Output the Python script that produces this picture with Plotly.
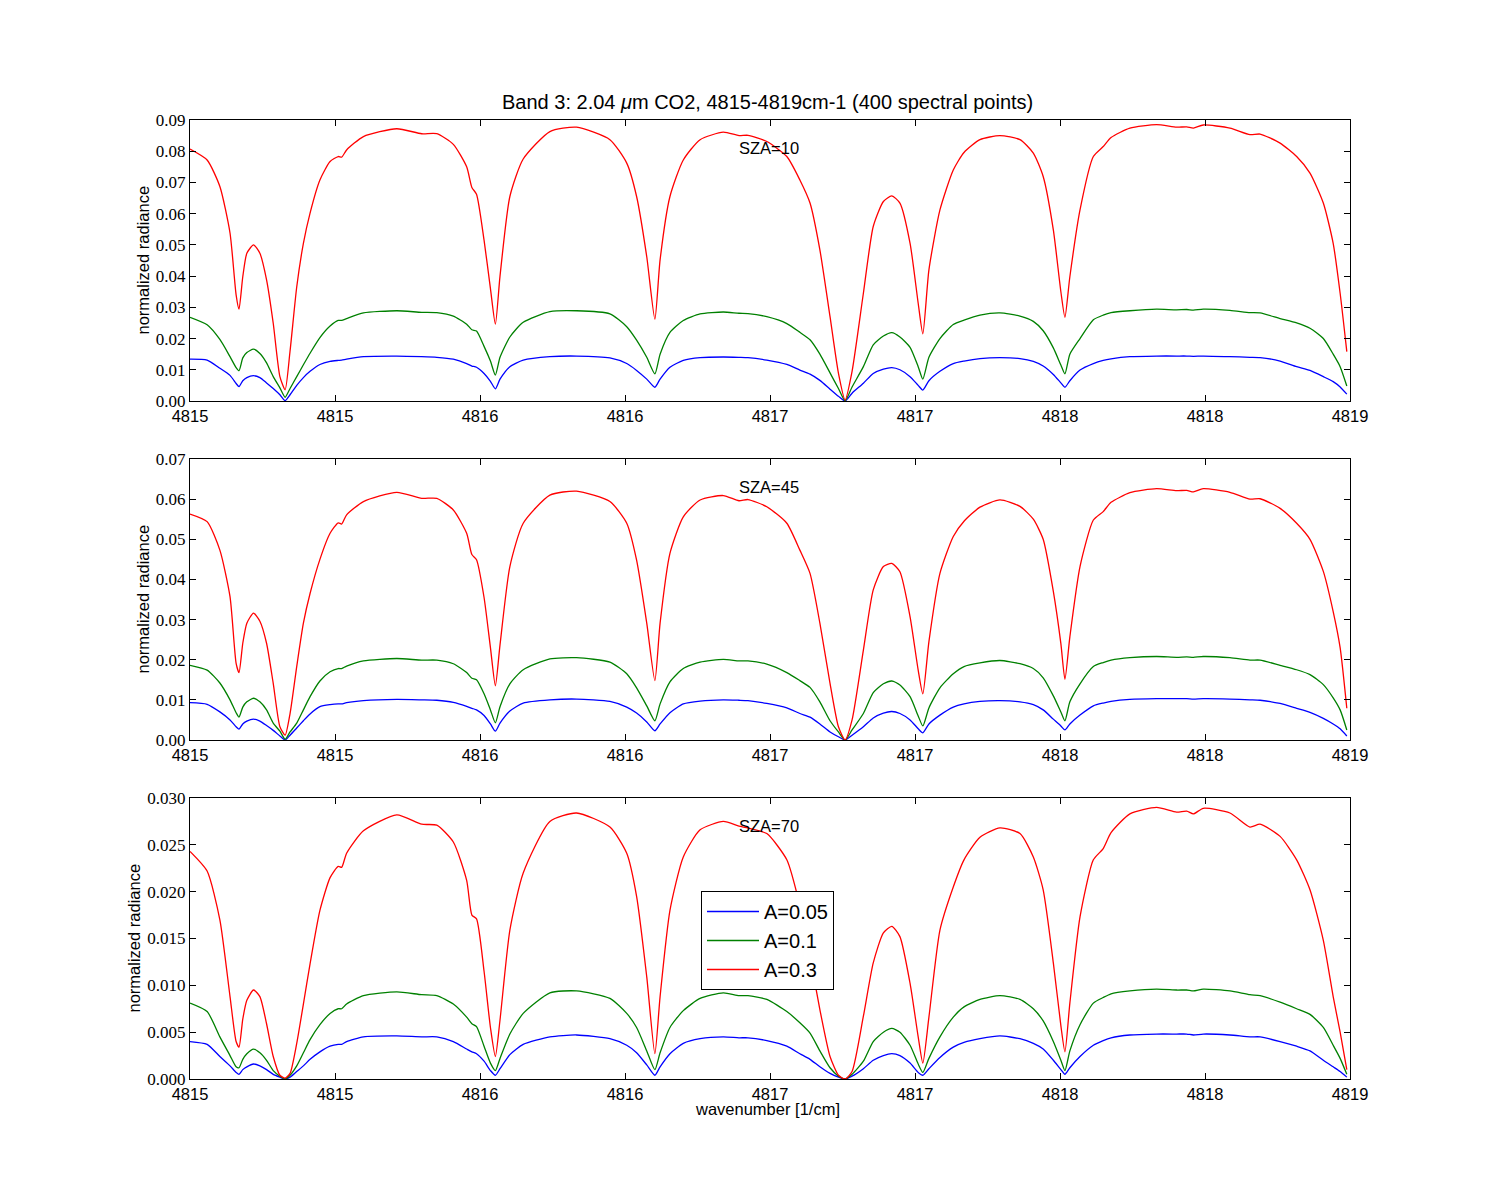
import plotly.graph_objects as go

# ---------------- data ----------------
wavenumber = [
    4815.000, 4815.059, 4815.103, 4815.138, 4815.159, 4815.169, 4815.182, 4815.196, 4815.219, 4815.241,
    4815.264, 4815.287, 4815.310, 4815.328, 4815.345, 4815.368, 4815.391, 4815.414, 4815.448, 4815.483,
    4815.511, 4815.523, 4815.540, 4815.598, 4815.713, 4815.799, 4815.851, 4815.908, 4815.954, 4815.972,
    4815.988, 4816.014, 4816.036, 4816.053, 4816.069, 4816.103, 4816.149, 4816.241, 4816.333, 4816.448,
    4816.506, 4816.540, 4816.575, 4816.603, 4816.621, 4816.655, 4816.701, 4816.759, 4816.839, 4816.893,
    4816.924, 4816.989, 4817.058, 4817.103, 4817.138, 4817.172, 4817.207, 4817.236, 4817.259, 4817.283,
    4817.322, 4817.356, 4817.391, 4817.420, 4817.448, 4817.483, 4817.511, 4817.527, 4817.548, 4817.586,
    4817.632, 4817.669, 4817.724, 4817.793, 4817.862, 4817.908, 4817.942, 4817.977, 4818.003, 4818.017,
    4818.034, 4818.069, 4818.115, 4818.149, 4818.176, 4818.241, 4818.333, 4818.402, 4818.437, 4818.460,
    4818.494, 4818.586, 4818.655, 4818.690, 4818.759, 4818.816, 4818.862, 4818.908, 4818.942, 4818.966,
    4818.989,
]

# SZA = 10
sza10_a005 = [
    0.0134, 0.0131, 0.0105, 0.0082, 0.0056, 0.0046, 0.0065, 0.0075, 0.0081, 0.0075,
    0.0058, 0.0040, 0.0020, 0.0001, 0.0020, 0.0050, 0.0075, 0.0095, 0.0117, 0.0127,
    0.0130, 0.0131, 0.0134, 0.0142, 0.0144, 0.0142, 0.0140, 0.0134, 0.0120, 0.0112,
    0.0108, 0.0088, 0.0063, 0.0039, 0.0070, 0.0110, 0.0131, 0.0142, 0.0144, 0.0138,
    0.0120, 0.0098, 0.0070, 0.0044, 0.0070, 0.0108, 0.0130, 0.0139, 0.0141, 0.0140,
    0.0139, 0.0131, 0.0117, 0.0099, 0.0086, 0.0066, 0.0038, 0.0015, 0.0000, 0.0025,
    0.0057, 0.0088, 0.0102, 0.0107, 0.0100, 0.0078, 0.0050, 0.0035, 0.0065, 0.0095,
    0.0120, 0.0128, 0.0136, 0.0139, 0.0136, 0.0127, 0.0112, 0.0085, 0.0058, 0.0044,
    0.0065, 0.0099, 0.0120, 0.0130, 0.0135, 0.0142, 0.0144, 0.0144, 0.0144, 0.0143,
    0.0144, 0.0142, 0.0140, 0.0139, 0.0128, 0.0110, 0.0098, 0.0078, 0.0062, 0.0045,
    0.0022,
]
sza10_a01 = [
    0.0268, 0.0244, 0.0197, 0.0142, 0.0107, 0.0097, 0.0138, 0.0155, 0.0166, 0.0152,
    0.0122, 0.0078, 0.0042, 0.0012, 0.0040, 0.0078, 0.0116, 0.0153, 0.0203, 0.0240,
    0.0258, 0.0258, 0.0264, 0.0282, 0.0289, 0.0284, 0.0283, 0.0272, 0.0246, 0.0228,
    0.0224, 0.0175, 0.0128, 0.0083, 0.0140, 0.0205, 0.0252, 0.0286, 0.0289, 0.0279,
    0.0238, 0.0195, 0.0140, 0.0087, 0.0150, 0.0220, 0.0258, 0.0279, 0.0285, 0.0281,
    0.0280, 0.0270, 0.0248, 0.0220, 0.0196, 0.0150, 0.0090, 0.0040, 0.0001, 0.0045,
    0.0110, 0.0180, 0.0208, 0.0219, 0.0205, 0.0172, 0.0110, 0.0070, 0.0140, 0.0200,
    0.0245, 0.0259, 0.0275, 0.0282, 0.0272, 0.0255, 0.0225, 0.0170, 0.0115, 0.0087,
    0.0150, 0.0200, 0.0260, 0.0275, 0.0283, 0.0289, 0.0294, 0.0292, 0.0293, 0.0291,
    0.0294, 0.0290, 0.0283, 0.0282, 0.0264, 0.0250, 0.0233, 0.0200, 0.0150, 0.0110,
    0.0048,
]
sza10_a03 = [
    0.0807, 0.0772, 0.0687, 0.0538, 0.0340, 0.0294, 0.0398, 0.0473, 0.0500, 0.0473,
    0.0388, 0.0249, 0.0078, 0.0036, 0.0160, 0.0365, 0.0505, 0.0602, 0.0708, 0.0767,
    0.0783, 0.0781, 0.0804, 0.0847, 0.0872, 0.0856, 0.0856, 0.0822, 0.0750, 0.0684,
    0.0662, 0.0515, 0.0360, 0.0246, 0.0400, 0.0655, 0.0775, 0.0863, 0.0877, 0.0837,
    0.0762, 0.0655, 0.0462, 0.0262, 0.0452, 0.0655, 0.0772, 0.0837, 0.0861, 0.0850,
    0.0851, 0.0831, 0.0783, 0.0708, 0.0634, 0.0484, 0.0270, 0.0089, 0.0003, 0.0095,
    0.0345, 0.0559, 0.0639, 0.0657, 0.0634, 0.0505, 0.0313, 0.0215, 0.0420, 0.0612,
    0.0740, 0.0796, 0.0837, 0.0850, 0.0837, 0.0794, 0.0719, 0.0548, 0.0350, 0.0268,
    0.0398, 0.0612, 0.0783, 0.0815, 0.0844, 0.0874, 0.0885, 0.0877, 0.0878, 0.0874,
    0.0884, 0.0874, 0.0853, 0.0855, 0.0826, 0.0783, 0.0730, 0.0634, 0.0505, 0.0345,
    0.0158,
]

# SZA = 45
sza45_a005 = [
    0.0093, 0.0089, 0.0070, 0.0050, 0.0033, 0.0027, 0.0040, 0.0047, 0.0052, 0.0047,
    0.0036, 0.0024, 0.0010, 0.0000, 0.0012, 0.0030, 0.0048, 0.0065, 0.0083, 0.0088,
    0.0090, 0.0090, 0.0093, 0.0098, 0.0101, 0.0100, 0.0099, 0.0094, 0.0084, 0.0079,
    0.0075, 0.0061, 0.0040, 0.0022, 0.0042, 0.0072, 0.0092, 0.0100, 0.0102, 0.0096,
    0.0082, 0.0067, 0.0045, 0.0023, 0.0040, 0.0068, 0.0090, 0.0097, 0.0100, 0.0099,
    0.0098, 0.0091, 0.0080, 0.0066, 0.0057, 0.0040, 0.0020, 0.0008, 0.0000, 0.0012,
    0.0033, 0.0055, 0.0067, 0.0071, 0.0066, 0.0050, 0.0028, 0.0018, 0.0040, 0.0062,
    0.0082, 0.0090, 0.0096, 0.0098, 0.0095, 0.0088, 0.0075, 0.0052, 0.0035, 0.0025,
    0.0040, 0.0062, 0.0085, 0.0092, 0.0096, 0.0101, 0.0103, 0.0103, 0.0103, 0.0102,
    0.0103, 0.0102, 0.0100, 0.0099, 0.0091, 0.0079, 0.0069, 0.0054, 0.0040, 0.0028,
    0.0010,
]
sza45_a01 = [
    0.0186, 0.0174, 0.0142, 0.0100, 0.0068, 0.0057, 0.0082, 0.0095, 0.0104, 0.0095,
    0.0075, 0.0042, 0.0022, 0.0002, 0.0020, 0.0042, 0.0075, 0.0108, 0.0147, 0.0170,
    0.0178, 0.0178, 0.0184, 0.0197, 0.0203, 0.0199, 0.0199, 0.0190, 0.0168, 0.0154,
    0.0150, 0.0115, 0.0075, 0.0043, 0.0083, 0.0140, 0.0175, 0.0202, 0.0205, 0.0194,
    0.0165, 0.0130, 0.0085, 0.0048, 0.0090, 0.0145, 0.0178, 0.0194, 0.0201, 0.0197,
    0.0197, 0.0189, 0.0168, 0.0148, 0.0131, 0.0095, 0.0048, 0.0020, 0.0000, 0.0025,
    0.0066, 0.0118, 0.0140, 0.0147, 0.0137, 0.0108, 0.0060, 0.0035, 0.0080, 0.0130,
    0.0165, 0.0183, 0.0192, 0.0198, 0.0190, 0.0178, 0.0155, 0.0110, 0.0070, 0.0048,
    0.0095, 0.0140, 0.0183, 0.0193, 0.0199, 0.0205, 0.0208, 0.0206, 0.0207, 0.0206,
    0.0208, 0.0205, 0.0199, 0.0199, 0.0186, 0.0175, 0.0163, 0.0138, 0.0105, 0.0075,
    0.0025,
]
sza45_a03 = [
    0.0563, 0.0544, 0.0473, 0.0357, 0.0191, 0.0168, 0.0241, 0.0291, 0.0316, 0.0296,
    0.0241, 0.0141, 0.0033, 0.0012, 0.0066, 0.0183, 0.0291, 0.0365, 0.0450, 0.0515,
    0.0541, 0.0538, 0.0561, 0.0594, 0.0617, 0.0602, 0.0602, 0.0573, 0.0515, 0.0462,
    0.0449, 0.0355, 0.0230, 0.0135, 0.0237, 0.0432, 0.0540, 0.0610, 0.0620, 0.0594,
    0.0540, 0.0448, 0.0291, 0.0148, 0.0291, 0.0465, 0.0556, 0.0598, 0.0609, 0.0596,
    0.0599, 0.0581, 0.0540, 0.0473, 0.0415, 0.0291, 0.0141, 0.0033, 0.0000, 0.0050,
    0.0224, 0.0374, 0.0432, 0.0440, 0.0419, 0.0307, 0.0174, 0.0115, 0.0245, 0.0415,
    0.0507, 0.0545, 0.0580, 0.0598, 0.0582, 0.0550, 0.0500, 0.0370, 0.0240, 0.0151,
    0.0257, 0.0432, 0.0548, 0.0569, 0.0592, 0.0616, 0.0626, 0.0621, 0.0622, 0.0618,
    0.0626, 0.0617, 0.0600, 0.0601, 0.0577, 0.0540, 0.0500, 0.0420, 0.0320, 0.0230,
    0.0079,
]

# SZA = 70
sza70_a005 = [
    0.0040, 0.0037, 0.0024, 0.0014, 0.0007, 0.0005, 0.0010, 0.0013, 0.0016, 0.0014,
    0.0010, 0.0005, 0.0002, 0.0000, 0.0002, 0.0008, 0.0014, 0.0021, 0.0029, 0.0035,
    0.0037, 0.0037, 0.0040, 0.0045, 0.0046, 0.0045, 0.0045, 0.0040, 0.0032, 0.0029,
    0.0027, 0.0019, 0.0009, 0.0004, 0.0011, 0.0026, 0.0037, 0.0045, 0.0047, 0.0043,
    0.0036, 0.0028, 0.0015, 0.0004, 0.0013, 0.0027, 0.0038, 0.0043, 0.0045, 0.0044,
    0.0044, 0.0041, 0.0035, 0.0027, 0.0021, 0.0013, 0.0006, 0.0002, 0.0000, 0.0003,
    0.0011, 0.0020, 0.0025, 0.0027, 0.0025, 0.0017, 0.0007, 0.0004, 0.0011, 0.0023,
    0.0034, 0.0039, 0.0043, 0.0046, 0.0043, 0.0038, 0.0032, 0.0020, 0.0010, 0.0005,
    0.0012, 0.0024, 0.0036, 0.0041, 0.0044, 0.0047, 0.0048, 0.0048, 0.0048, 0.0047,
    0.0048, 0.0047, 0.0045, 0.0045, 0.0040, 0.0035, 0.0030, 0.0020, 0.0013, 0.0008,
    0.0002,
]
sza70_a01 = [
    0.0081, 0.0072, 0.0045, 0.0025, 0.0013, 0.0012, 0.0021, 0.0027, 0.0032, 0.0028,
    0.0020, 0.0009, 0.0003, 0.0000, 0.0004, 0.0014, 0.0028, 0.0042, 0.0058, 0.0070,
    0.0075, 0.0075, 0.0080, 0.0089, 0.0093, 0.0090, 0.0089, 0.0080, 0.0066, 0.0059,
    0.0056, 0.0035, 0.0017, 0.0009, 0.0022, 0.0048, 0.0070, 0.0092, 0.0094, 0.0086,
    0.0070, 0.0055, 0.0030, 0.0010, 0.0028, 0.0055, 0.0073, 0.0086, 0.0092, 0.0089,
    0.0089, 0.0085, 0.0072, 0.0060, 0.0049, 0.0030, 0.0012, 0.0003, 0.0000, 0.0005,
    0.0019, 0.0040, 0.0050, 0.0054, 0.0050, 0.0036, 0.0016, 0.0007, 0.0022, 0.0045,
    0.0066, 0.0077, 0.0085, 0.0089, 0.0085, 0.0075, 0.0062, 0.0040, 0.0020, 0.0009,
    0.0030, 0.0058, 0.0081, 0.0087, 0.0091, 0.0094, 0.0096, 0.0095, 0.0095, 0.0094,
    0.0096, 0.0094, 0.0090, 0.0089, 0.0082, 0.0075, 0.0069, 0.0055, 0.0036, 0.0022,
    0.0005,
]
sza70_a03 = [
    0.0243, 0.0222, 0.0170, 0.0088, 0.0040, 0.0034, 0.0064, 0.0084, 0.0095, 0.0088,
    0.0059, 0.0024, 0.0004, 0.0001, 0.0006, 0.0038, 0.0080, 0.0123, 0.0180, 0.0215,
    0.0227, 0.0226, 0.0241, 0.0265, 0.0282, 0.0272, 0.0271, 0.0253, 0.0212, 0.0175,
    0.0171, 0.0115, 0.0055, 0.0024, 0.0063, 0.0159, 0.0220, 0.0275, 0.0284, 0.0269,
    0.0241, 0.0195, 0.0109, 0.0027, 0.0088, 0.0180, 0.0237, 0.0266, 0.0275, 0.0270,
    0.0268, 0.0262, 0.0234, 0.0185, 0.0131, 0.0074, 0.0024, 0.0004, 0.0000, 0.0008,
    0.0067, 0.0124, 0.0156, 0.0163, 0.0152, 0.0102, 0.0045, 0.0017, 0.0066, 0.0159,
    0.0205, 0.0234, 0.0258, 0.0268, 0.0262, 0.0237, 0.0202, 0.0124, 0.0057, 0.0029,
    0.0081, 0.0173, 0.0234, 0.0246, 0.0263, 0.0283, 0.0290, 0.0285, 0.0286, 0.0283,
    0.0289, 0.0284, 0.0269, 0.0272, 0.0259, 0.0234, 0.0202, 0.0148, 0.0088, 0.0050,
    0.0010,
]

albedo_labels = ["A=0.05", "A=0.1", "A=0.3"]
sza_labels = ["SZA=10", "SZA=45", "SZA=70"]
panels = [
    [sza10_a005, sza10_a01, sza10_a03],
    [sza45_a005, sza45_a01, sza45_a03],
    [sza70_a005, sza70_a01, sza70_a03],
]
y_ranges = [[0, 0.09], [0, 0.07], [0, 0.03]]
y_ticks = [
    [0.00, 0.01, 0.02, 0.03, 0.04, 0.05, 0.06, 0.07, 0.08, 0.09],
    [0.00, 0.01, 0.02, 0.03, 0.04, 0.05, 0.06, 0.07],
    [0.000, 0.005, 0.010, 0.015, 0.020, 0.025, 0.030],
]
y_formats = [".2f", ".2f", ".3f"]
sza_label_y = [0.0811, 0.0630, 0.0270]
x_tickvals = [4815, 4815.5, 4816, 4816.5, 4817, 4817.5, 4818, 4818.5, 4819]
x_ticktext = ["4815", "4815", "4816", "4816", "4817", "4817", "4818", "4818", "4819"]

# ---------------- styling ----------------
colors = ["#0000ff", "#008000", "#ff0000"]
OFF = 8                                   # page body margin of the browser
W, H = 1500 - 2 * OFF, 1200 - 2 * OFF
L, R, T, B = 190 - OFF, 1350 - OFF, 120 - OFF, 1079 - OFF   # plot-area box
PW, PH = R - L, B - T


def px_x(px):
    return (px - OFF - L) / PW


def px_y(py):
    return (B - (py - OFF)) / PH


y_doms = [
    [px_y(401), px_y(120)],
    [px_y(740), px_y(459)],
    [px_y(1079), px_y(798)],
]
serif = "Liberation Serif"
sans = "Liberation Sans"

fig = go.Figure()
for p, series in enumerate(panels):
    suffix = "" if p == 0 else str(p + 1)
    for k, ys in enumerate(series):
        fig.add_trace(go.Scatter(
            x=wavenumber, y=ys, mode="lines",
            line=dict(color=colors[k], width=1.3, shape="spline", smoothing=0.6),
            name=albedo_labels[k], showlegend=(p == 2),
            xaxis="x" + suffix, yaxis="y" + suffix,
        ))

layout = dict(
    width=W, height=H,
    margin=dict(l=L, r=W - R, t=T, b=H - B, autoexpand=False),
    paper_bgcolor="white", plot_bgcolor="white",
    showlegend=True,
    legend=dict(
        x=px_x(701), y=px_y(891), xanchor="left", yanchor="top",
        bordercolor="black", borderwidth=1, bgcolor="white",
        font=dict(family=sans, size=20, color="black"),
        tracegroupgap=0, itemwidth=52,
    ),
)
for p in range(3):
    suffix = "" if p == 0 else str(p + 1)
    layout["xaxis" + suffix] = dict(
        domain=[0, 1], anchor="y" + suffix, range=[4815, 4819],
        tickvals=x_tickvals, ticktext=x_ticktext,
        ticks="inside", ticklen=6, tickcolor="black",
        showline=True, linecolor="black", linewidth=1, mirror="ticks",
        showgrid=False, zeroline=False, automargin=False,
        tickfont=dict(family=sans, size=16.5, color="black"),
    )
    layout["yaxis" + suffix] = dict(
        domain=y_doms[p], anchor="x" + suffix, range=y_ranges[p],
        tickvals=y_ticks[p], tickformat=y_formats[p],
        ticks="inside", ticklen=6, tickcolor="black",
        showline=True, linecolor="black", linewidth=1, mirror="ticks",
        showgrid=False, zeroline=False, automargin=False,
        tickfont=dict(family=serif, size=17, color="black"),
    )
fig.update_layout(**layout)

annotations = [
    dict(text="Band 3: 2.04 <i>μ</i>m CO2, 4815-4819cm-1 (400 spectral points)",
         xref="paper", yref="paper", x=px_x(767), y=px_y(102),
         xanchor="center", yanchor="middle", showarrow=False,
         font=dict(family=sans, size=20, color="black")),
    dict(text="wavenumber [1/cm]", xref="paper", yref="paper",
         x=px_x(767), y=px_y(1109), xanchor="center", yanchor="middle",
         showarrow=False, font=dict(family=sans, size=16.5, color="black")),
]
ylabel_x = [142, 142, 133]
for p in range(3):
    suffix = "" if p == 0 else str(p + 1)
    annotations.append(dict(
        text=sza_labels[p], xref="x" + suffix, yref="y" + suffix,
        x=4816.885, y=sza_label_y[p], xanchor="left", yanchor="middle",
        showarrow=False, font=dict(family=sans, size=16.5, color="black"),
    ))
    yc = (y_doms[p][0] + y_doms[p][1]) / 2
    annotations.append(dict(
        text="normalized radiance", xref="paper", yref="paper",
        x=px_x(ylabel_x[p]), y=yc, xanchor="center", yanchor="middle",
        textangle=-90, showarrow=False,
        font=dict(family=sans, size=16.5, color="black"),
    ))
fig.update_layout(annotations=annotations)

fig.write_html("out.html")
